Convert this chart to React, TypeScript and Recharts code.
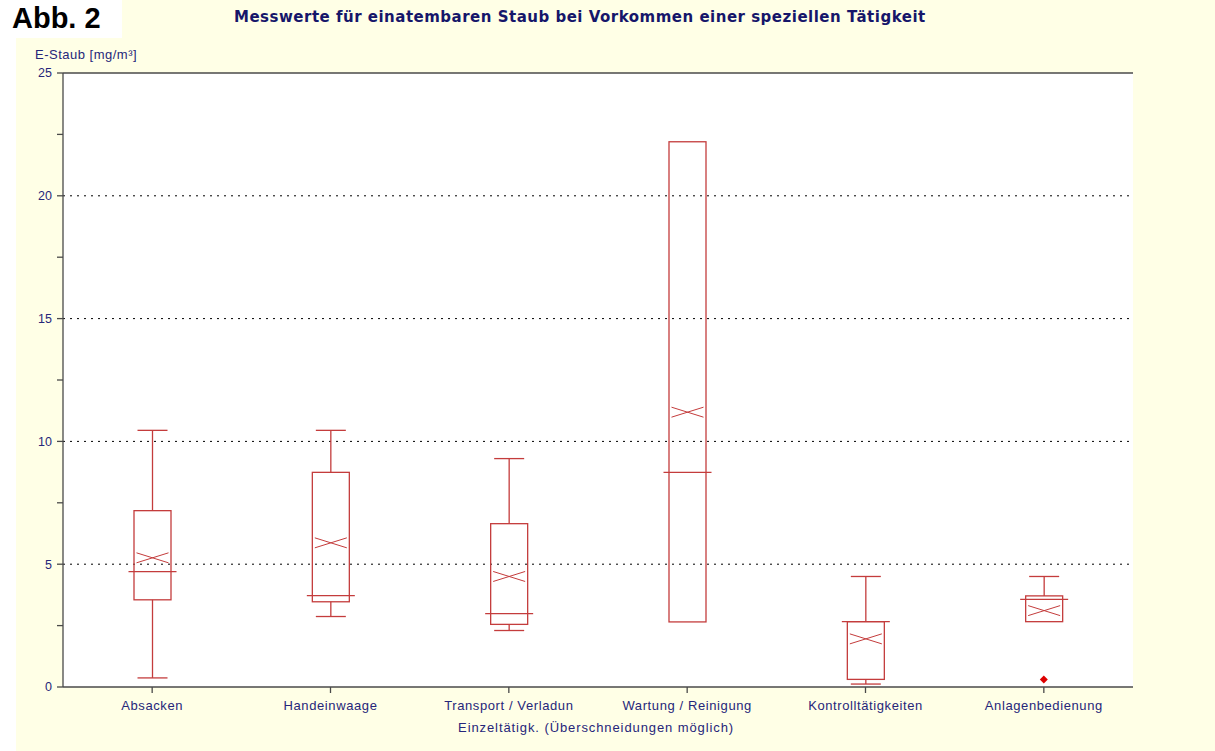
import React from 'react';
import {
  ComposedChart,
  Bar,
  Line,
  XAxis,
  YAxis,
  CartesianGrid,
  ReferenceLine,
} from 'recharts';

// Boxplot values (mg/m³)
const categories = [
  'Absacken',
  'Handeinwaage',
  'Transport / Verladun',
  'Wartung / Reinigung',
  'Kontrolltätigkeiten',
  'Anlagenbedienung',
];
const whiskerLow = [0.37, 2.87, 2.3, 2.65, 0.12, 2.66];
const q1 = [3.55, 3.47, 2.55, 2.65, 0.31, 2.66];
const median = [4.7, 3.72, 2.99, 8.74, 2.66, 3.57];
const mean = [5.26, 5.87, 4.5, 11.19, 1.96, 3.11];
const q3 = [7.18, 8.74, 6.65, 22.2, 2.66, 3.71];
const whiskerHigh = [10.45, 10.45, 9.3, 22.2, 4.5, 4.5];
const outliers: (number | null)[] = [null, null, null, null, null, 0.31];

const yTicks = [0, 2.5, 5, 7.5, 10, 12.5, 15, 17.5, 20, 22.5, 25];
const gridValues = [5, 10, 15, 20];

const data = categories.map((name, i) => ({
  name,
  low: whiskerLow[i],
  q1: q1[i],
  median: median[i],
  mean: mean[i],
  q3: q3[i],
  high: whiskerHigh[i],
  outlier: outliers[i],
}));

const BOX = '#c43c3c';
const TEXT = '#26267a';
const AXIS = '#4a4a4a';
const FONT = '"Liberation Sans", Arial, sans-serif';

// draws the whole box from the range bar (low..high) geometry
const BoxShape = (props: any) => {
  const { x, y, width, height, payload } = props;
  const top = Math.min(y, y + height);
  const bot = Math.max(y, y + height);
  const { low, high } = payload;
  const py = (v: number) => top + ((high - v) / (high - low)) * (bot - top);
  const cx = x + width / 2;
  const bw = 37;
  const cap = 15;
  const med = 24;
  const yq1 = py(payload.q1);
  const yq3 = py(payload.q3);
  const ym = py(payload.mean);
  const ymed = py(payload.median);
  return (
    <g stroke={BOX} strokeWidth={1.3} fill="none">
      {payload.high > payload.q3 && (
        <>
          <line x1={cx} x2={cx} y1={py(payload.high)} y2={yq3} />
          <line x1={cx - cap} x2={cx + cap} y1={py(payload.high)} y2={py(payload.high)} />
        </>
      )}
      {payload.low < payload.q1 && (
        <>
          <line x1={cx} x2={cx} y1={yq1} y2={py(payload.low)} />
          <line x1={cx - cap} x2={cx + cap} y1={py(payload.low)} y2={py(payload.low)} />
        </>
      )}
      <rect x={cx - bw / 2} y={yq3} width={bw} height={yq1 - yq3} />
      <line x1={cx - med} x2={cx + med} y1={ymed} y2={ymed} />
      <line x1={cx - 16} x2={cx + 16} y1={ym - 5} y2={ym + 5} strokeWidth={1} />
      <line x1={cx - 16} x2={cx + 16} y1={ym + 5} y2={ym - 5} strokeWidth={1} />
    </g>
  );
};

const OutlierDot = (props: any) => {
  const { cx, cy, payload, index } = props;
  if (payload.outlier == null || cy == null) return <g key={index} />;
  return (
    <path
      key={index}
      d={`M${cx},${cy - 4} L${cx + 4},${cy} L${cx},${cy + 4} L${cx - 4},${cy} Z`}
      fill="#dd0000"
      stroke="none"
    />
  );
};

export default function App() {
  return (
    <div
      style={{
        position: 'absolute',
        left: 0,
        top: 0,
        width: 1215,
        height: 751,
        background: '#ffffff',
        fontFamily: FONT,
        overflow: 'hidden',
      }}
    >
      <div style={{ position: 'absolute', left: 16, top: 0, width: 1199, height: 751, background: '#ffffe6' }} />
      <div style={{ position: 'absolute', left: 0, top: 0, width: 122, height: 38, background: '#ffffff' }} />
      <div style={{ position: 'absolute', left: 12, top: 2, fontSize: 29, fontWeight: 'bold', color: '#000' }}>
        Abb. 2
      </div>
      <div
        style={{
          position: 'absolute',
          left: 234,
          top: 8,
          fontSize: 15,
          fontWeight: 'bold',
          color: '#16166a',
          fontFamily: '"DejaVu Sans", sans-serif',
          letterSpacing: 0.5,
          whiteSpace: 'nowrap',
        }}
      >
        Messwerte für einatembaren Staub bei Vorkommen einer speziellen Tätigkeit
      </div>
      <div style={{ position: 'absolute', left: 35, top: 47, fontSize: 13, letterSpacing: 0.5, color: TEXT }}>
        E-Staub [mg/m³]
      </div>
      <div
        style={{
          position: 'absolute',
          left: 334,
          width: 400,
          top: 720,
          fontSize: 13,
          letterSpacing: 0.9,
          color: TEXT,
          textAlign: 'right',
          whiteSpace: 'nowrap',
        }}
      >
        Einzeltätigk. (Überschneidungen möglich)
      </div>

      <div style={{ position: 'absolute', left: 0, top: 0 }}>
        <ComposedChart
          width={1215}
          height={751}
          data={data}
          margin={{ top: 73, right: 82, bottom: 24, left: 16 }}
        >
          <CartesianGrid
            vertical={false}
            horizontalValues={gridValues}
            stroke="#000000"
            strokeDasharray="2 5"
            fill="#ffffff"
            fillOpacity={1}
          />
          <XAxis
            dataKey="name"
            height={40}
            stroke={AXIS}
            strokeWidth={1.3}
            tickSize={6}
            tickMargin={8}
            tick={{ fill: TEXT, fontSize: 13, letterSpacing: 0.6, fontFamily: FONT }}
            interval={0}
          />
          <YAxis
            domain={[0, 25]}
            ticks={yTicks}
            width={47}
            stroke={AXIS}
            strokeWidth={1.3}
            tickSize={6}
            tickMargin={5}
            tickFormatter={(v: number) => (v % 5 === 0 ? String(v) : '')}
            tick={{ fill: TEXT, fontSize: 12.5, fontFamily: FONT }}
            allowDataOverflow
          />
          <YAxis
            yAxisId="frame"
            orientation="right"
            domain={[0, 25]}
            width={0}
            tick={false}
            tickLine={false}
            stroke={AXIS}
            strokeWidth={1.3}
          />
          <ReferenceLine y={25} stroke={AXIS} strokeWidth={1.3} />
          <Bar
            dataKey={(d: any) => [d.low, d.high]}
            barSize={37}
            shape={BoxShape}
            isAnimationActive={false}
          />
          <Line
            dataKey="outlier"
            stroke="none"
            dot={OutlierDot}
            activeDot={false}
            isAnimationActive={false}
          />
        </ComposedChart>
      </div>
    </div>
  );
}
